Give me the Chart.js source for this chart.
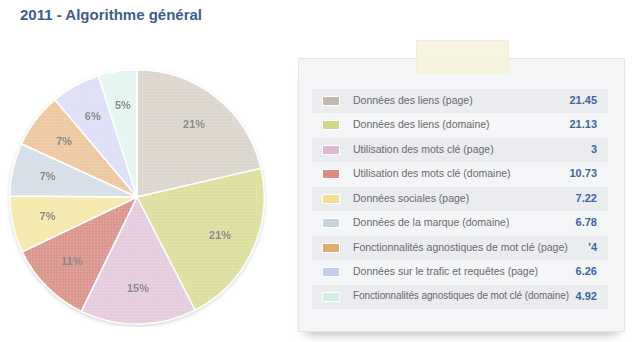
<!DOCTYPE html>
<html><head><meta charset="utf-8">
<script src="https://cdn.jsdelivr.net/npm/chart.js@4/dist/chart.umd.min.js"></script>
<style>
html,body{margin:0;padding:0;background:#fff;width:640px;height:342px;overflow:hidden;font-family:"Liberation Sans",Arial,sans-serif;}
#title{position:absolute;left:20px;top:6px;font-size:15px;font-weight:bold;color:#3d5d8a;letter-spacing:0px;}
#pieWrap{position:absolute;left:7px;top:67px;width:260px;height:260px;}
#panel{position:absolute;left:298px;top:58px;width:325px;height:272px;background:#f4f5f7;border:1px solid #e3e5e9;box-shadow:0 9px 10px -7px rgba(0,0,0,0.28);}
#tape{position:absolute;left:416px;top:40px;width:91px;height:32px;background:rgba(246,243,221,0.85);border:1px solid rgba(235,231,205,0.5);}
#rows{position:absolute;left:312px;top:89px;width:296px;}
.row{position:relative;height:24.45px;}
.row.sh{background:#eaecf0;}
.sw{position:absolute;left:10px;top:7px;width:16px;height:8px;border:1.5px solid #fff;}
.lb{position:absolute;left:41px;top:5px;font-size:10.5px;color:#6a6a6a;white-space:nowrap;}
.lb.small{font-size:10px;letter-spacing:-0.1px;}
.vl{position:absolute;right:11px;top:5px;font-size:11px;font-weight:bold;color:#3d67a0;}
</style></head>
<body>
<div id="title">2011 - Algorithme général</div>
<div id="pieWrap"><canvas id="pie" width="260" height="260"></canvas></div>
<div id="panel"></div>
<div id="tape"></div>
<div id="rows"></div>
<script>
// ---- data ----
const categories = [
  "Données des liens (page)",
  "Données des liens (domaine)",
  "Utilisation des mots clé (page)",
  "Utilisation des mots clé (domaine)",
  "Données sociales (page)",
  "Données de la marque (domaine)",
  "Fonctionnalités agnostiques de mot clé (page)",
  "Données sur le trafic et requêtes (page)",
  "Fonctionnalités agnostiques de mot clé (domaine)"
];
const values = [21.45, 21.13, 14.8, 10.73, 7.22, 6.78, 7.0, 6.26, 4.92];
const legendValueLabels = ["21.45", "21.13", "3", "10.73", "7.22", "6.78", "'4", "6.26", "4.92"];
const sliceColors = ["#dbd5cc", "#dcde9e", "#e5cbde", "#db958d", "#f4e8aa", "#d5dee7", "#edc79d", "#dedef6", "#e4f6f1"];
const swatchColors = ["#c1b8ad", "#d2d688", "#dfb9d2", "#d98c86", "#f1de90", "#c7d3df", "#e2ad72", "#c6cbf0", "#cfefe4"];

// ---- legend panel ----
const rows = document.getElementById('rows');
categories.forEach((c, i) => {
  const r = document.createElement('div');
  r.className = 'row' + (i % 2 === 0 ? ' sh' : '');
  r.innerHTML = '<div class="sw" style="background:' + swatchColors[i] + '"></div>' +
    '<div class="lb' + (c.length > 46 ? ' small' : '') + '"></div><div class="vl"></div>';
  r.querySelector('.lb').textContent = c;
  r.querySelector('.vl').textContent = legendValueLabels[i];
  rows.appendChild(r);
});

// ---- textured fills ----
function makePattern(color) {
  const c = document.createElement('canvas');
  c.width = 3; c.height = 3;
  const g = c.getContext('2d');
  g.fillStyle = color; g.fillRect(0, 0, 3, 3);
  g.fillStyle = 'rgba(255,255,255,0.1)';
  g.fillRect(0, 0, 3, 1); g.fillRect(0, 0, 1, 3);
  return g.createPattern(c, 'repeat');
}
const fills = sliceColors.map(makePattern);

const total = values.reduce((a, b) => a + b, 0);
const pctLabels = {
  id: 'pctLabels',
  afterDatasetsDraw(chart) {
    const ctx = chart.ctx;
    const meta = chart.getDatasetMeta(0);
    ctx.save();
    ctx.font = 'bold 11px "Liberation Sans", Arial, sans-serif';
    ctx.fillStyle = '#8a8a8a';
    ctx.textAlign = 'center';
    ctx.textBaseline = 'middle';
    meta.data.forEach((arc, i) => {
      const a = (arc.startAngle + arc.endAngle) / 2;
      const rr = arc.outerRadius * 0.72;
      ctx.fillText(Math.round(values[i] / total * 100) + '%', arc.x + Math.cos(a) * rr, arc.y + Math.sin(a) * rr);
    });
    ctx.restore();
  }
};
const pieShadow = {
  id: 'pieShadow',
  beforeDatasetsDraw(chart) {
    const arc = chart.getDatasetMeta(0).data[0];
    if (!arc) return;
    const ctx = chart.ctx;
    ctx.save();
    ctx.shadowColor = 'rgba(0,0,0,0.22)';
    ctx.shadowBlur = 4;
    ctx.shadowOffsetY = 1.5;
    ctx.beginPath();
    ctx.arc(arc.x, arc.y, arc.outerRadius, 0, Math.PI * 2);
    ctx.fillStyle = '#fff';
    ctx.fill();
    ctx.restore();
  }
};

new Chart(document.getElementById('pie'), {
  type: 'pie',
  data: {
    labels: categories,
    datasets: [{ data: values, backgroundColor: fills, borderColor: '#ffffff', borderWidth: 1.5 }]
  },
  options: {
    responsive: false,
    animation: false,
    layout: { padding: 2 },
    plugins: { legend: { display: false }, tooltip: { enabled: false } }
  },
  plugins: [pieShadow, pctLabels]
});
</script>
</body></html>
